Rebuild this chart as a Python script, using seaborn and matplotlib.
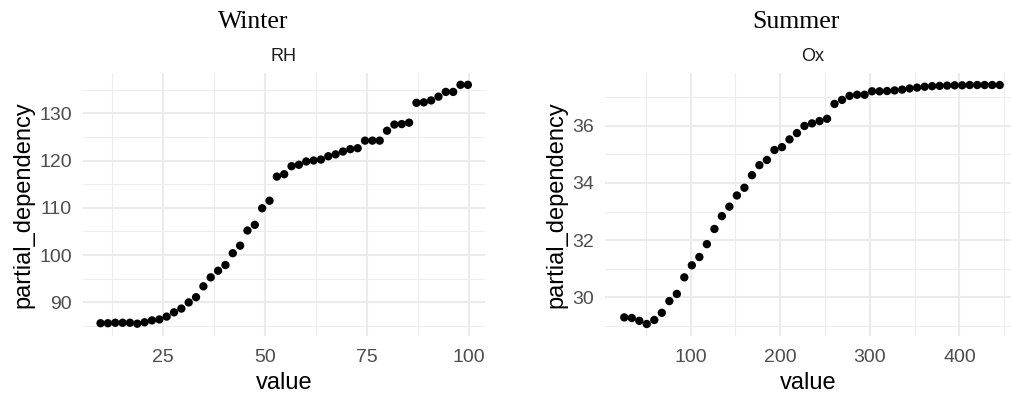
import matplotlib
matplotlib.use("Agg")
import matplotlib.pyplot as plt
import seaborn as sns
import pandas as pd
from matplotlib.ticker import FixedLocator

# Partial dependence of the model output on one predictor per season
winter_rh = [9.7, 11.5, 13.3, 15.1, 16.9, 18.7, 20.5, 22.3, 24.1, 25.9,
             27.7, 29.5, 31.3, 33.1, 34.9, 36.7, 38.5, 40.3, 42.1, 43.9,
             45.7, 47.5, 49.3, 51.1, 52.9, 54.7, 56.5, 58.3, 60.1, 61.9,
             63.7, 65.5, 67.3, 69.1, 70.9, 72.7, 74.5, 76.3, 78.1, 79.9,
             81.7, 83.5, 85.3, 87.1, 88.9, 90.7, 92.5, 94.3, 96.1, 97.9,
             99.7]
winter_pd = [85.6, 85.6, 85.7, 85.7, 85.7, 85.5, 85.8, 86.2, 86.4, 87.0,
             87.9, 88.7, 90.0, 91.1, 93.4, 95.3, 96.7, 97.9, 100.4, 102.0,
             105.2, 106.4, 109.9, 111.5, 116.6, 117.1, 118.8, 119.1, 119.8, 120.0,
             120.2, 120.9, 121.3, 121.9, 122.4, 122.6, 124.2, 124.2, 124.2, 126.3,
             127.6, 127.7, 128.0, 132.2, 132.3, 132.7, 133.5, 134.5, 134.5, 136.0,
             136.0]

summer_ox = [26.0, 34.4, 42.8, 51.1, 59.5, 67.9, 76.3, 84.7, 93.0, 101.4,
             109.8, 118.2, 126.6, 134.9, 143.3, 151.7, 160.1, 168.5, 176.8, 185.2,
             193.6, 202.0, 210.4, 218.7, 227.1, 235.5, 243.9, 252.3, 260.6, 269.0,
             277.4, 285.8, 294.2, 302.5, 310.9, 319.3, 327.7, 336.1, 344.4, 352.8,
             361.2, 369.6, 378.0, 386.3, 394.7, 403.1, 411.5, 419.9, 428.2, 436.6,
             445.0]
summer_pd = [29.30, 29.28, 29.18, 29.07, 29.21, 29.46, 29.87, 30.12, 30.70, 31.12,
             31.41, 31.86, 32.39, 32.84, 33.17, 33.56, 33.83, 34.27, 34.62, 34.80,
             35.15, 35.25, 35.52, 35.74, 35.99, 36.08, 36.16, 36.24, 36.76, 36.90,
             37.04, 37.08, 37.08, 37.20, 37.20, 37.21, 37.23, 37.26, 37.30, 37.33,
             37.36, 37.38, 37.39, 37.40, 37.41, 37.41, 37.42, 37.42, 37.42, 37.42,
             37.42]

seasons = ["Winter", "Summer"]
variables = ["RH", "Ox"]
x_major = [[25, 50, 75, 100], [100, 200, 300, 400]]
x_minor = [[12.5, 37.5, 62.5, 87.5], [50, 150, 250, 350, 450]]
y_major = [[90, 100, 110, 120, 130], [30, 32, 34, 36]]
y_minor = [[85, 95, 105, 115, 125, 135], [29, 31, 33, 35, 37]]
x_limits = [(5.4, 103.9), (4.5, 458.7)]
y_limits = [(82.9, 138.5), (28.65, 37.84)]

frames = [
    pd.DataFrame({"value": winter_rh, "partial_dependency": winter_pd}),
    pd.DataFrame({"value": summer_ox, "partial_dependency": summer_pd}),
]

sns.set_theme(style="white")
plt.rcParams["font.family"] = ["Liberation Sans", "DejaVu Sans"]

W, H = 1012, 401
fig = plt.figure(figsize=(W / 100, H / 100), dpi=100)

# panel rectangles in pixels: left, right, top, bottom
boxes = [(83, 485, 73, 336), (605, 1012, 73, 336)]
title_x = [253, 796]
strip_x = [284, 813]
ylabel_x = [23, 556]

for i, df in enumerate(frames):
    l, r, t, b = boxes[i]
    ax = fig.add_axes([l / W, 1 - b / H, (r - l) / W, (b - t) / H])
    sns.scatterplot(data=df, x="value", y="partial_dependency", ax=ax,
                    color="black", s=36, edgecolor="none", linewidth=0,
                    zorder=3, clip_on=False)
    ax.set_xlim(*x_limits[i])
    ax.set_ylim(*y_limits[i])
    ax.xaxis.set_major_locator(FixedLocator(x_major[i]))
    ax.xaxis.set_minor_locator(FixedLocator(x_minor[i]))
    ax.yaxis.set_major_locator(FixedLocator(y_major[i]))
    ax.yaxis.set_minor_locator(FixedLocator(y_minor[i]))
    ax.grid(which="major", color="#EBEBEB", linewidth=1.5)
    ax.grid(which="minor", color="#EDEDED", linewidth=0.8)
    ax.set_axisbelow(True)
    for s in ax.spines.values():
        s.set_visible(False)
    ax.tick_params(which="both", length=0)
    ax.tick_params(axis="y", labelsize=14, labelcolor="#4D4D4D", pad=8)
    ax.tick_params(axis="x", labelsize=14, labelcolor="#4D4D4D", pad=9)
    ax.set_xlabel("value", fontsize=17, color="black")
    ax.set_ylabel("partial_dependency", fontsize=17, color="black")
    ax.xaxis.set_label_coords(0.5, (b - 383) / (b - t))
    ax.xaxis.label.set_va("center")
    ax.yaxis.set_label_coords((ylabel_x[i] - l) / (r - l), 0.5)
    ax.yaxis.label.set_va("center")

    fig.text(title_x[i] / W, 1 - 22 / H, seasons[i], ha="center", va="center",
             fontsize=18.5, family=["Liberation Serif", "DejaVu Serif"],
             color="black")
    fig.text(strip_x[i] / W, 1 - 56.5 / H, variables[i], ha="center",
             va="center", fontsize=13, color="#1A1A1A")

fig.savefig("out.png", dpi=100)
